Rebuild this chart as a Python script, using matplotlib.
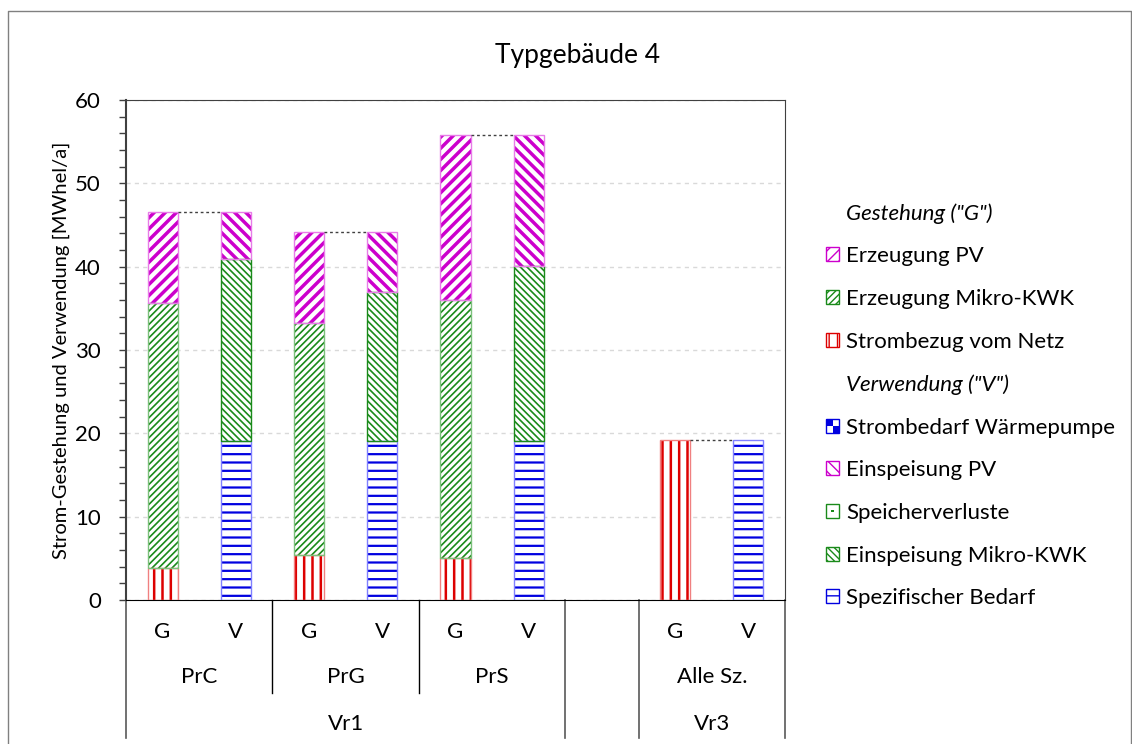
import numpy as np
import matplotlib
matplotlib.use("Agg")
import matplotlib.pyplot as plt
from matplotlib.patches import Patch, Rectangle
from matplotlib.lines import Line2D
from matplotlib.legend_handler import HandlerPatch

plt.rcParams['font.family'] = ['Lato', 'DejaVu Sans']

# --- data ---------------------------------------------------------------
slot_labels = ["G", "V", "G", "V", "G", "V", "", "G", "V"]
pr_groups = [("PrC", 0, 1), ("PrG", 2, 3), ("PrS", 4, 5), ("", 6, 6), ("Alle Sz.", 7, 8)]
vr_groups = [("Vr1", 0, 5), ("", 6, 6), ("Vr3", 7, 8)]

g_pos = [0, 2, 4, 7]
v_pos = [1, 3, 5, 8]

# Gestehung (G)
strombezug_netz = [3.9, 5.4, 5.0, 19.2]
erzeugung_kwk = [31.7, 27.8, 31.0, 0.0]
erzeugung_pv = [11.0, 11.0, 19.8, 0.0]

# Verwendung (V)
spez_bedarf = [19.1, 19.1, 19.1, 19.2]
einspeisung_kwk = [21.8, 17.8, 21.0, 0.0]
speicherverluste = [0.0, 0.0, 0.0, 0.0]
einspeisung_pv = [5.7, 7.3, 15.7, 0.0]
strombedarf_wp = [0.0, 0.0, 0.0, 0.0]

MAG = "#cc00cc"
RED = "#dd0000"
BLUE = "#0000e0"
GREEN = "#1a8a1a"

# name, values, hatch, colour, edge colour, hatch lw
g_series = [
    ("Strombezug vom Netz", strombezug_netz, "||", RED, "#f08080", 1.8),
    ("Erzeugung Mikro-KWK", erzeugung_kwk, "/////", GREEN, "#7cc07c", 1.2),
    ("Erzeugung PV", erzeugung_pv, "///", MAG, "#e87ce8", 2.5),
]
v_series = [
    ("Spezifischer Bedarf", spez_bedarf, "--", BLUE, "#8080ff", 1.6),
    ("Einspeisung Mikro-KWK", einspeisung_kwk, "\\\\\\\\\\", GREEN, GREEN, 1.2),
    ("Speicherverluste", speicherverluste, ".", GREEN, GREEN, 1.0),
    ("Einspeisung PV", einspeisung_pv, "\\\\\\", MAG, "#e87ce8", 2.5),
    ("Strombedarf Wärmepumpe", strombedarf_wp, "++", BLUE, BLUE, 1.6),
]

W = 0.41
FS = 16

fig = plt.figure(figsize=(11.32, 7.44), dpi=100)
ax = fig.add_axes([126 / 1132, 1 - 600 / 744, (785 - 126) / 1132, 500 / 744])


def draw_stack(pos, series):
    bottom = np.zeros(len(pos))
    for name, vals, hatch, col, edge, hlw in series:
        vals = np.array(vals)
        with plt.rc_context({'hatch.linewidth': hlw}):
            bars = ax.bar(pos, vals, W, bottom=bottom, color="white",
                          edgecolor=col, linewidth=0, hatch=hatch, zorder=2)
        for b in bars:
            if hasattr(b, "set_hatch_linewidth"):
                b.set_hatch_linewidth(hlw)
        mask = vals > 0
        ax.bar(np.array(pos)[mask], vals[mask], W, bottom=bottom[mask], fill=False,
               edgecolor=edge, linewidth=1.0, zorder=3)
        bottom = bottom + vals
    return bottom


g_tot = draw_stack(g_pos, g_series)
v_tot = draw_stack(v_pos, v_series)

# series lines between G and V
for xg, xv, t in zip(g_pos, v_pos, g_tot):
    ax.plot([xg + W / 2, xv - W / 2], [t, t], color="#404040", lw=1.0,
            linestyle=(0, (2, 2)), zorder=4)

ax.set_xlim(-0.5, len(slot_labels) - 0.5)
ax.set_ylim(0, 60)
ax.set_yticks(np.arange(0, 61, 10))
ax.set_yticks(np.arange(0, 61, 2), minor=True)
ax.tick_params(axis="y", which="both", direction="out", length=5, width=1,
               color="#404040", labelsize=FS, pad=13)
ax.yaxis.grid(True, linestyle=(0, (3, 3)), color="#d9d9d9", lw=1)
ax.set_axisbelow(True)

ax.set_xticks(range(len(slot_labels)))
ax.set_xticklabels(slot_labels, fontsize=FS)
ax.tick_params(axis="x", length=0, pad=16)

for s in ["top", "right"]:
    ax.spines[s].set_color("#404040")
ax.spines["left"].set_color("#404040")
ax.spines["left"].set_linewidth(1.5)
ax.spines["bottom"].set_color("black")

ax.set_ylabel("Strom-Gestehung und Verwendung [MWhel/a]", fontsize=14.5, labelpad=4)

# multi-level category axis
tr = ax.get_xaxis_transform()
for name, a, b in pr_groups:
    ax.text((a + b) / 2, -0.154, name, transform=tr, ha="center", va="center", fontsize=FS)
for name, a, b in vr_groups:
    ax.text((a + b) / 2, -0.248, name, transform=tr, ha="center", va="center", fontsize=FS)

long_edges = {-0.5} | {b + 0.5 for _, _, b in vr_groups}
short_edges = {b + 0.5 for _, _, b in pr_groups} - long_edges
for x in sorted(long_edges):
    ax.add_line(Line2D([x, x], [0, -0.276], transform=tr, color="#595959",
                       lw=1.2, clip_on=False))
for x in sorted(short_edges):
    ax.add_line(Line2D([x, x], [0, -0.186], transform=tr, color="black",
                       lw=1.0, clip_on=False))

fig.text(578 / 1132, 1 - 55 / 744, "Typgebäude 4", ha="center", va="center", fontsize=19)


# legend
class MarkHandler(HandlerPatch):
    """Small square icon with filled cells (checker / centre dot)."""

    def __init__(self, col, cells):
        super().__init__()
        self.col = col
        self.cells = cells

    def create_artists(self, legend, orig_handle, xdescent, ydescent, width, height,
                       fontsize, trans):
        x0, y0 = -xdescent, -ydescent
        arts = [Rectangle((x0, y0), width, height, facecolor="white",
                          edgecolor=self.col, lw=1.0)]
        for cx, cy, cw, ch in self.cells:
            arts.append(Rectangle((x0 + cx * width, y0 + cy * height), cw * width,
                                  ch * height, facecolor=self.col, edgecolor="none"))
        for a in arts:
            a.set_transform(trans)
        return arts


def leg_patch(hatch, col, hlw):
    p = Patch(facecolor="white", edgecolor=col, hatch=hatch, linewidth=1.0)
    if hasattr(p, "set_hatch_linewidth"):
        p.set_hatch_linewidth(hlw)
    return p


blank = Rectangle((0, 0), 1, 1, fill=False, edgecolor="none", linewidth=0)
handles = [blank]
labels = ['Gestehung ("G")']
for name, _, hatch, col, _, hlw in reversed(g_series):
    handles.append(leg_patch(hatch, col, hlw))
    labels.append(name)
handles.append(blank)
labels.append('Verwendung ("V")')
hmap = {}
for name, _, hatch, col, _, hlw in reversed(v_series):
    p = leg_patch(hatch, col, hlw)
    if name == "Strombedarf Wärmepumpe":
        hmap[p] = MarkHandler(col, [(0, 0.5, 0.5, 0.5), (0.5, 0, 0.5, 0.5)])
    elif name == "Speicherverluste":
        hmap[p] = MarkHandler(col, [(0.4, 0.4, 0.2, 0.2)])
    handles.append(p)
    labels.append(name)

leg = fig.legend(handles, labels, loc="upper left", bbox_to_anchor=(826 / 1132, 1 - 203 / 744),
                 frameon=False, fontsize=FS, handlelength=0.6, handleheight=0.6,
                 handletextpad=0.3, labelspacing=1.02, borderpad=0, borderaxespad=0,
                 handler_map=hmap)
for i, t in enumerate(leg.get_texts()):
    if labels[i].startswith(("Gestehung", "Verwendung")):
        t.set_fontstyle("italic")

# outer chart border
fig.add_artist(Line2D([8 / 1132, 8 / 1132, 1131 / 1132, 1131 / 1132],
                      [0, 1 - 11 / 744, 1 - 11 / 744, 0], transform=fig.transFigure,
                      color="#808080", lw=1.0))

fig.savefig("out.png", dpi=100)
